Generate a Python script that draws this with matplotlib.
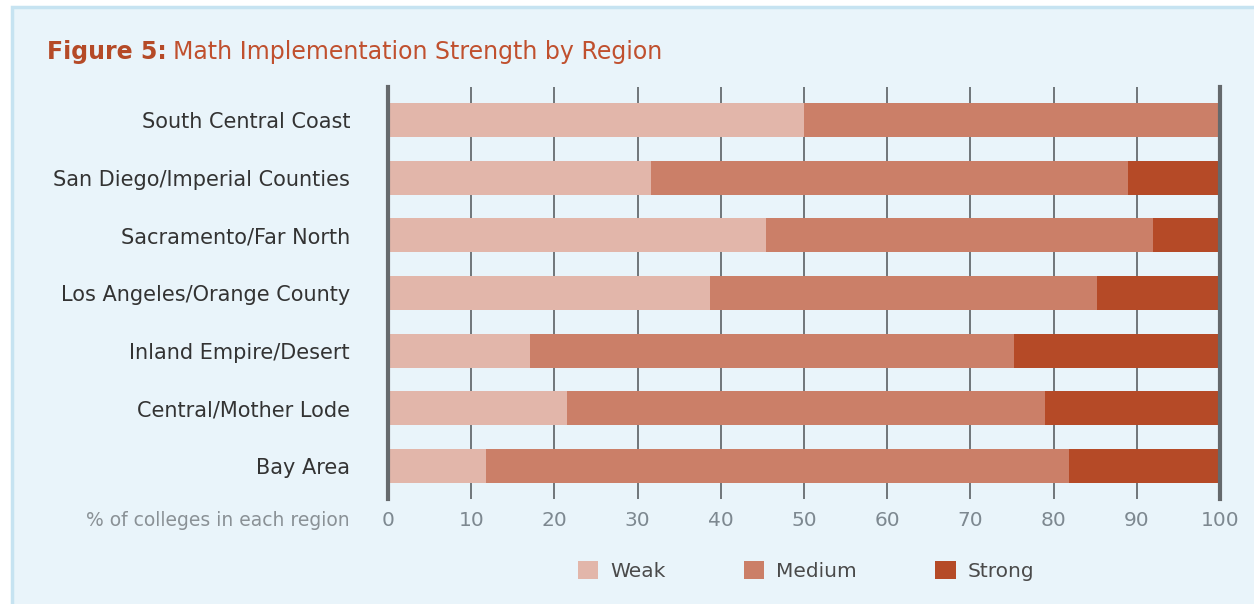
import numpy as np
from matplotlib import pyplot as plt
from matplotlib.patches import Patch, Rectangle
from matplotlib.transforms import offset_copy

# data (percent of colleges in each region)
regions = ["South Central Coast", "San Diego/Imperial Counties", "Sacramento/Far North",
           "Los Angeles/Orange County", "Inland Empire/Desert", "Central/Mother Lode", "Bay Area"]
weak = [50.0, 31.6, 45.4, 38.7, 17.1, 21.5, 11.8]
medium = [50.0, 57.3, 46.5, 46.5, 58.1, 57.5, 70.0]
strong = [0.0, 11.1, 8.1, 14.8, 24.8, 21.0, 18.2]

levels = ["Weak", "Medium", "Strong"]
colors = ["#E2B6AA", "#CB7F68", "#B54A27"]

bg = "#E9F4FA"

fig = plt.figure(figsize=(12.54, 6.04), dpi=100)
fig.patch.set_facecolor("white")
# light blue panel with a border, as in the report layout
fig.patches.append(Rectangle((12 / 1254, -0.05), 1.1, 1 - 7 / 604 + 0.05,
                             transform=fig.transFigure, facecolor=bg,
                             edgecolor="#C6E3F1", linewidth=2.5, zorder=-5))

ax = fig.add_axes([388 / 1254, 105 / 604, 832 / 1254, 412 / 604])
ax.set_facecolor("none")

y = np.arange(len(regions))
left = np.zeros(len(regions))
for vals, lab, col in zip([weak, medium, strong], levels, colors):
    ax.barh(y, vals, left=left, height=0.59, color=col, label=lab, zorder=2)
    left = left + np.array(vals)

ax.set_xlim(0, 100)
ax.set_ylim(len(regions) - 0.42, -0.58)
ax.set_xticks(np.arange(0, 101, 10))
ax.set_yticks(y)
ax.set_yticklabels(regions)

for xv in range(10, 100, 10):
    ax.axvline(xv, color="#6F7579", linewidth=1.4, zorder=1)

for s in ["top", "bottom"]:
    ax.spines[s].set_visible(False)
for s in ["left", "right"]:
    ax.spines[s].set_color("#65696C")
    ax.spines[s].set_linewidth(3)
    ax.spines[s].set_zorder(3)

ax.tick_params(axis="y", length=0, pad=38 * 0.72, labelsize=15, labelcolor="#333333")
ax.tick_params(axis="x", length=0, pad=9, labelsize=14.5, labelcolor="#7D8890")

fig.text(350 / 1254, 1 - 521 / 604, "% of colleges in each region", ha="right", va="center",
         fontsize=13.5, color="#8A9196")

# title: bold prefix followed by the regular part
t1 = fig.text(47 / 1254, 1 - 52 / 604, "Figure 5:", ha="left", va="center",
              fontsize=17, fontweight="bold", color="#B54A27")
fig.canvas.draw()
w = t1.get_window_extent().width
fig.text(47 / 1254, 1 - 52 / 604, "Math Implementation Strength by Region", ha="left",
         va="center", fontsize=17, color="#C0502E",
         transform=offset_copy(fig.transFigure, fig=fig, x=w + 6, units="dots"))

handles = [Patch(facecolor=c, label=l) for l, c in zip(levels, colors)]
fig.legend(handles=handles, loc="center", bbox_to_anchor=(806 / 1254, 1 - 571 / 604), ncol=3,
           frameon=False, fontsize=14.5, handlelength=1.0, handleheight=1.0,
           handletextpad=0.6, columnspacing=3.9, labelcolor="#4A4A4A")

fig.savefig("out.png", dpi=100, facecolor=fig.get_facecolor())
